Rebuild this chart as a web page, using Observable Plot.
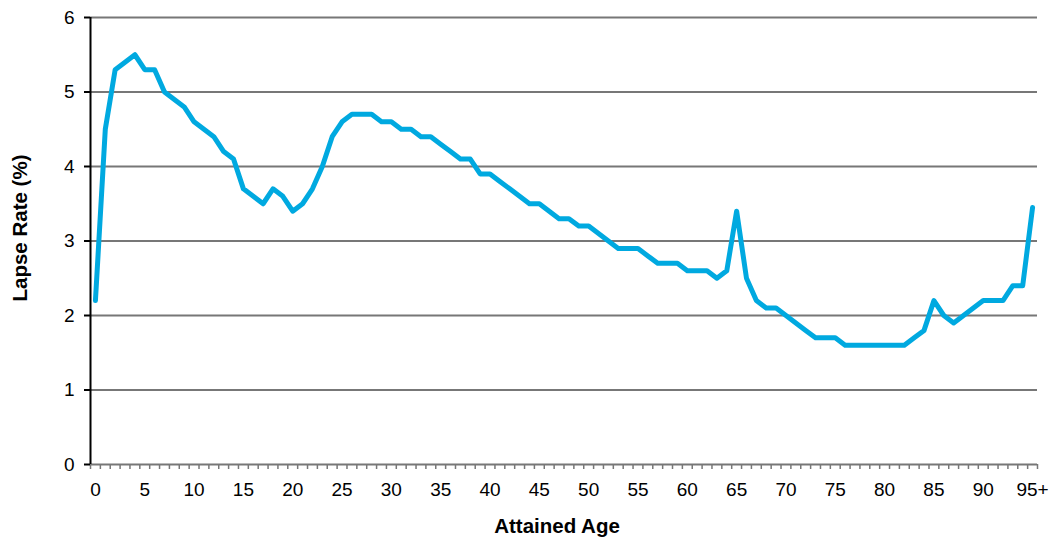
<!DOCTYPE html>
<html><head><meta charset="utf-8">
<script src="https://cdn.jsdelivr.net/npm/d3@7"></script>
<script src="https://cdn.jsdelivr.net/npm/@observablehq/plot@0.6"></script>
<style>body{margin:0;background:#fff}</style>
</head><body><div id="chart"></div>
<script>
const ages = d3.range(0, 96);
const lapseRates = [
  2.2, 4.5, 5.3, 5.4, 5.5, 5.3, 5.3, 5.0, 4.9, 4.8,
  4.6, 4.5, 4.4, 4.2, 4.1, 3.7, 3.6, 3.5, 3.7, 3.6,
  3.4, 3.5, 3.7, 4.0, 4.4, 4.6, 4.7, 4.7, 4.7, 4.6,
  4.6, 4.5, 4.5, 4.4, 4.4, 4.3, 4.2, 4.1, 4.1, 3.9,
  3.9, 3.8, 3.7, 3.6, 3.5, 3.5, 3.4, 3.3, 3.3, 3.2,
  3.2, 3.1, 3.0, 2.9, 2.9, 2.9, 2.8, 2.7, 2.7, 2.7,
  2.6, 2.6, 2.6, 2.5, 2.6, 3.4, 2.5, 2.2, 2.1, 2.1,
  2.0, 1.9, 1.8, 1.7, 1.7, 1.7, 1.6, 1.6, 1.6, 1.6,
  1.6, 1.6, 1.6, 1.7, 1.8, 2.2, 2.0, 1.9, 2.0, 2.1,
  2.2, 2.2, 2.2, 2.4, 2.4, 3.45
];
const yTicks = [0, 1, 2, 3, 4, 5, 6];
const xLabelTicks = [0, 5, 10, 15, 20, 25, 30, 35, 40, 45, 50, 55, 60, 65, 70, 75, 80, 85, 90, 95];
const xLabels = ["0", "5", "10", "15", "20", "25", "30", "35", "40", "45", "50", "55", "60", "65", "70", "75", "80", "85", "90", "95+"];
const yTitle = "Lapse Rate (%)";
const xTitle = "Attained Age";

const data = ages.map((a, i) => ({age: a, rate: lapseRates[i]}));
const boundaries = d3.range(0, ages.length + 1).map(i => i - 0.5);

const chart = Plot.plot({
  width: 1052, height: 542,
  marginLeft: 90, marginRight: 15, marginTop: 17, marginBottom: 78,
  style: {fontFamily: "'Liberation Sans', Arial, sans-serif", fontSize: "19px", color: "#000", background: "#fff"},
  x: {domain: [-0.5, ages.length - 0.5]},
  y: {domain: [0, 6]},
  marks: [
    Plot.ruleY(yTicks.slice(1), {stroke: "#777", strokeWidth: 1.8}),
    Plot.ruleY([0], {stroke: "#777", strokeWidth: 1.8}),
    Plot.axisX({ticks: boundaries, tickSize: 5, tickFormat: () => "", label: null, stroke: "#777", strokeWidth: 1.5}),
    Plot.axisX({ticks: xLabelTicks, tickSize: 0, tickPadding: 18, tickFormat: d => xLabels[xLabelTicks.indexOf(d)], label: null}),
    Plot.axisY({ticks: yTicks, tickSize: 6, tickPadding: 10, tickFormat: d3.format("d"), label: null, stroke: "#000", strokeWidth: 2}),
    Plot.ruleX([-0.5], {stroke: "#000", strokeWidth: 2}),
    Plot.line(data, {x: "age", y: "rate", stroke: "#00A9E0", strokeWidth: 5, strokeLinejoin: "round", strokeLinecap: "round"}),
    Plot.text([yTitle], {frameAnchor: "left", textAnchor: "middle", lineAnchor: "middle", dx: -70, dy: -13, rotate: -90, fontWeight: "bold", fontSize: 20.5}),
    Plot.text([xTitle], {frameAnchor: "bottom", textAnchor: "middle", lineAnchor: "middle", dx: -7, dy: 62, fontWeight: "bold", fontSize: 20.5})
  ]
});
document.getElementById("chart").appendChild(chart);
</script>
</body></html>
